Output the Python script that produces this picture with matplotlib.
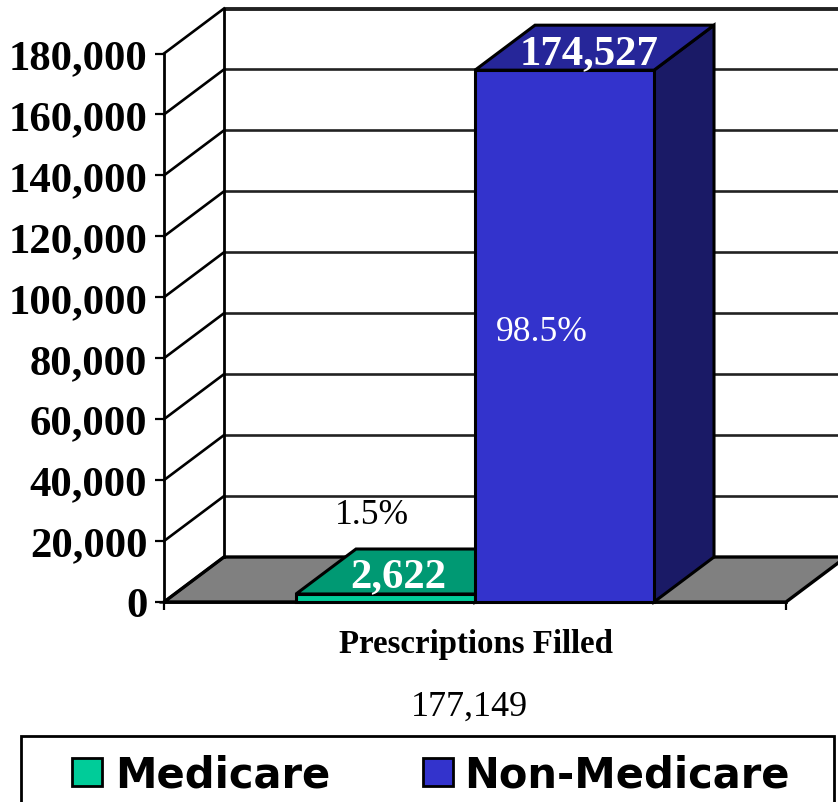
import matplotlib
matplotlib.use("Agg")
import matplotlib.pyplot as plt
from matplotlib.patches import Polygon, Rectangle

# === Data ===
series_names = ["Medicare", "Non-Medicare"]
series_values = [2622, 174527]
value_labels = ["2,622", "174,527"]
share_labels = ["1.5%", "98.5%"]
tick_values = [0, 20000, 40000, 60000, 80000, 100000, 120000, 140000, 160000, 180000]
tick_labels = ["0", "20,000", "40,000", "60,000", "80,000", "100,000",
               "120,000", "140,000", "160,000", "180,000"]
category_label = "Prescriptions Filled"
total_label = "177,149"

# === Styles ===
W, H = 838, 803
front_colors = ["#00CC99", "#3333CC"]
top_colors = ["#009973", "#262699"]
side_colors = ["#007356", "#1A1A66"]
serif = "Liberation Serif"
legend_font = "DejaVu Sans"

def fx(x):
    return x / W

def fy(y):
    return 1 - y / H

fig = plt.figure(figsize=(W / 100, H / 100), dpi=100, facecolor="white")
ax = fig.add_axes([fx(164), fy(603), (786 - 164) / W, (603 - 54.5) / H])
ax.set_xlim(0, 1)
ax.set_ylim(0, 180000)
ax.patch.set_visible(False)

# depth of the fake 3d box, in data units
depth_x = 60 / 622
depth_y = 45 / 548.5 * 180000

def shift(x, v, d=1):
    return (x + d * depth_x, v + d * depth_y)

# === Floor and walls ===
ax.add_patch(Polygon([shift(0, 0, 0), shift(1, 0, 0), shift(1, 0), shift(0, 0)],
                     closed=True, fc="#808080", ec="black", lw=2.4, clip_on=False, zorder=1))
for v in tick_values:
    bx, by = shift(0, v)
    ex, ey = shift(1, v)
    lw = 2.8 if v == tick_values[-1] else 1.9
    if v != 0:
        ax.plot([bx, ex], [by, ey], color="#222222", lw=lw, clip_on=False, zorder=1,
                solid_capstyle="butt")
    ax.plot([0, bx], [v, by], color="black", lw=1.9, clip_on=False, zorder=1)
bx0, by0 = shift(0, 0)
bx1, by1 = shift(0, tick_values[-1])
ax.plot([bx0, bx1], [by0, by1], color="black", lw=2, clip_on=False, zorder=1)

# === Bars ===
bar_gap = 132 / 622
bar_width = 179 / 622
for i, v in enumerate(series_values):
    x0 = bar_gap + i * bar_width
    x1 = x0 + bar_width
    style = dict(closed=True, ec="black", lw=2.2, clip_on=False, zorder=2 + i,
                 joinstyle="miter")
    ax.add_patch(Polygon([(x1, 0), shift(x1, 0), shift(x1, v), (x1, v)], fc=side_colors[i], **style))
    ax.add_patch(Polygon([(x0, v), (x1, v), shift(x1, v), shift(x0, v)], fc=top_colors[i], **style))
    ax.add_patch(Polygon([(x0, 0), (x1, 0), (x1, v), (x0, v)], fc=front_colors[i], **style))

# === Axes ===
for name in ["top", "right"]:
    ax.spines[name].set_visible(False)
for name in ["left", "bottom"]:
    ax.spines[name].set_linewidth(2)
    ax.spines[name].set_zorder(5)
ax.set_yticks(tick_values)
ax.set_yticklabels(tick_labels, family=serif, fontweight="bold", fontsize=30.8)
ax.tick_params(axis="y", length=6.5, width=1.6, pad=5.5)
ax.set_xticks([0, 1])
ax.set_xticklabels(["", ""])
ax.tick_params(axis="x", length=6, width=1.6)

# === Labels ===
fig.text(fx(589.5), fy(54), value_labels[1], family=serif, fontweight="bold", fontsize=30.8,
         color="white", ha="center", va="center", zorder=10)
fig.text(fx(398.5), fy(577), value_labels[0], family=serif, fontweight="bold", fontsize=30.8,
         color="white", ha="center", va="center", zorder=10)
fig.text(fx(542), fy(333), share_labels[1], family=serif, fontsize=25.6,
         color="white", ha="center", va="center", zorder=10)
fig.text(fx(372), fy(516), share_labels[0], family=serif, fontsize=25.6,
         color="black", ha="center", va="center", zorder=10)
fig.text(fx(475.5), fy(645), category_label, family=serif, fontweight="bold", fontsize=23.7,
         color="black", ha="center", va="center")
fig.text(fx(469.5), fy(707), total_label, family=serif, fontsize=26,
         color="black", ha="center", va="center")

# === Legend ===
fig.add_artist(Rectangle((fx(21), fy(815)), (834 - 21) / W, (815 - 737) / H,
                         transform=fig.transFigure, fc="white", ec="black", lw=2))
patch_lefts = [72, 423]
text_lefts = [115, 464]
for i, name in enumerate(series_names):
    fig.add_artist(Rectangle((fx(patch_lefts[i]), fy(787)), 30 / W, 28 / H,
                             transform=fig.transFigure, fc=front_colors[i], ec="black", lw=2))
    fig.text(fx(text_lefts[i]), fy(776), name, family=legend_font, fontweight="bold",
             fontsize=30, color="black", ha="left", va="center")

fig.savefig("out.png", dpi=100)
